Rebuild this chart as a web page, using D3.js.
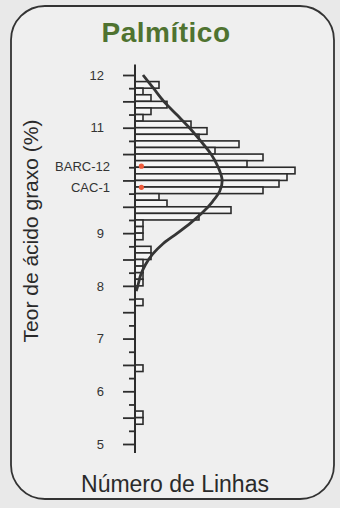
<!DOCTYPE html>
<html>
<head>
<meta charset="utf-8">
<script src="https://cdn.jsdelivr.net/npm/d3@7"></script>
<style>
  body { margin: 0; background: #e9e9e9; }
  svg { display: block; font-family: "Liberation Sans", Arial, sans-serif; }
</style>
</head>
<body>
<script>
// histogram classes (lower edge, 0.125 wide) and number of lines in each
const binWidth = 0.125;
const binStarts = [11.75, 11.625, 11.5, 11.375, 11.25, 11.125, 11.0, 10.875, 10.75, 10.625, 10.5, 10.375, 10.25, 10.125, 10.0, 9.875, 9.75, 9.625, 9.5, 9.375, 9.25, 9.125, 9.0, 8.875, 8.625, 8.5, 8.375, 8.25, 8.125, 8.0, 7.625, 6.375, 5.5, 5.375];
const binCounts = [3, 1, 2, 4, 2, 1, 7, 9, 8, 13, 10, 16, 14, 20, 19, 18, 16, 3, 4, 12, 8, 1, 1, 1, 2, 2, 1, 1, 1, 1, 1, 1, 1, 1];

// fitted normal curve
const curveValues = [12.0, 11.75, 11.5, 11.25, 11.0, 10.75, 10.5, 10.25, 10.0, 9.8, 9.6, 9.4, 9.2, 9.0, 8.8, 8.6, 8.4, 8.2, 8.0, 7.9];
const curveCounts = [1.0, 2.3, 3.6, 5.2, 6.8, 8.2, 9.5, 10.4, 10.9, 10.6, 9.7, 8.5, 7.0, 5.3, 3.5, 2.2, 1.3, 0.7, 0.35, 0.15];

// axis labels and highlighted genotypes
const tickLabels = [5, 6, 7, 8, 9, 11, 12];
const genotypes = ["BARC-12", "CAC-1"];
const genotypeValues = [10.27, 9.87];

const width = 340, height = 508;
const svg = d3.select("body").append("svg")
  .attr("width", width)
  .attr("height", height);

// frame
svg.append("rect")
  .attr("x", 11).attr("y", 6)
  .attr("width", 323).attr("height", 493)
  .attr("rx", 34).attr("ry", 34)
  .attr("fill", "#efefef")
  .attr("stroke", "#333")
  .attr("stroke-width", 1.8);

// title
svg.append("text")
  .attr("x", 166).attr("y", 42)
  .attr("text-anchor", "middle")
  .style("font-size", "28px")
  .style("font-weight", "bold")
  .style("letter-spacing", "0.5px")
  .style("fill", "#4f7330")
  .text("Palmítico");

// scales
const y = d3.scaleLinear().domain([5, 12]).range([444, 75]);
const x = d3.scaleLinear().domain([0, 22]).range([135, 311]);

// bars
svg.append("g")
  .selectAll("rect")
  .data(binStarts)
  .join("rect")
  .attr("x", x(0))
  .attr("y", d => y(d + binWidth))
  .attr("width", (d, i) => x(binCounts[i]) - x(0))
  .attr("height", d => y(d) - y(d + binWidth))
  .attr("fill", "#f5f5f5")
  .attr("stroke", "#2b2b2b")
  .attr("stroke-width", 1.6);

// normal curve
const line = d3.line()
  .x((d, i) => x(curveCounts[i]))
  .y(d => y(d))
  .curve(d3.curveCatmullRom);
svg.append("path")
  .datum(curveValues)
  .attr("d", line)
  .attr("fill", "none")
  .attr("stroke", "#353535")
  .attr("stroke-width", 2.8);

// Y axis: half units long ticks, quarter units short ones
const major = svg.append("g")
  .attr("transform", `translate(${x(0)},0)`)
  .call(d3.axisLeft(y)
    .tickValues(d3.range(5, 12.01, 0.5))
    .tickSize(12)
    .tickPadding(19)
    .tickFormat(d => tickLabels.includes(d) ? d : ""));
const minor = svg.append("g")
  .attr("transform", `translate(${x(0)},0)`)
  .call(d3.axisLeft(y)
    .tickValues(d3.range(5.25, 12, 0.5))
    .tickSize(6)
    .tickFormat(""));
[major, minor].forEach(g => {
  g.select(".domain").remove();
  g.selectAll("line").attr("stroke", "#2d2d2d").attr("stroke-width", 1.8);
  g.selectAll("text").style("font-size", "13px").style("fill", "#333");
});
svg.append("line")
  .attr("x1", x(0)).attr("x2", x(0))
  .attr("y1", y(12.2)).attr("y2", y(4.83))
  .attr("stroke", "#2d2d2d")
  .attr("stroke-width", 2);

// highlighted lines
svg.append("g")
  .selectAll("text")
  .data(genotypes)
  .join("text")
  .attr("x", 110)
  .attr("y", (d, i) => y(genotypeValues[i]))
  .attr("dy", "0.35em")
  .attr("text-anchor", "end")
  .style("font-size", "13px")
  .style("fill", "#333")
  .text(d => d);
svg.append("g")
  .selectAll("circle")
  .data(genotypeValues)
  .join("circle")
  .attr("cx", x(0.8))
  .attr("cy", d => y(d))
  .attr("r", 2.6)
  .attr("fill", "#ee5a3a");

// axis titles
svg.append("text")
  .attr("transform", "translate(38,231) rotate(-90)")
  .attr("text-anchor", "middle")
  .style("font-size", "21px")
  .style("fill", "#2a2a2a")
  .text("Teor de ácido graxo (%)");
svg.append("text")
  .attr("x", 175).attr("y", 492)
  .attr("text-anchor", "middle")
  .style("font-size", "23px")
  .style("fill", "#2a2a2a")
  .text("Número de Linhas");
</script>
</body>
</html>
